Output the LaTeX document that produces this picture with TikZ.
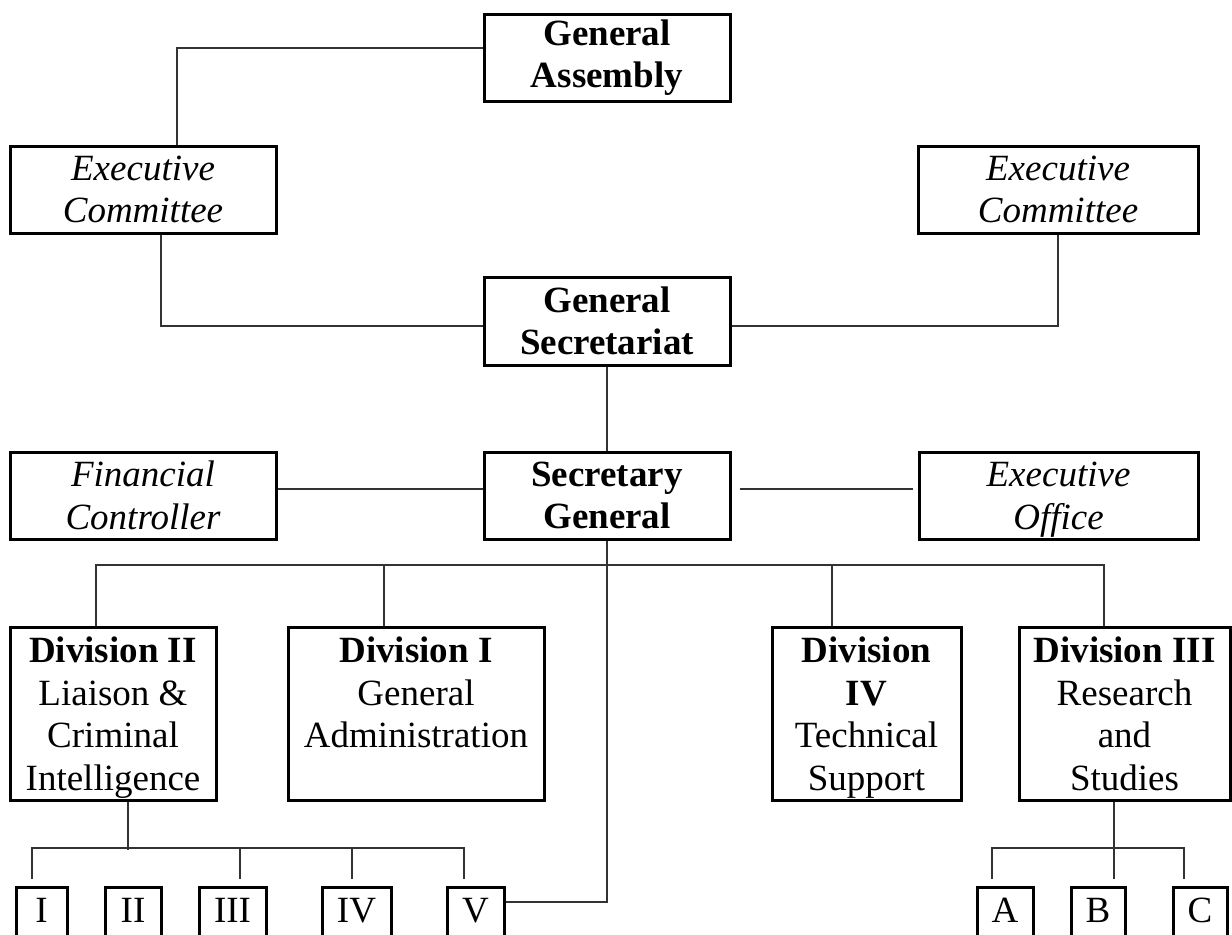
\documentclass[tikz,border=0pt]{standalone}
\usepackage{fontspec}
\setmainfont{Liberation Serif}
\begin{document}
\begin{tikzpicture}[x=0.5pt,y=-0.5pt,
box/.style={draw,line width=1.5pt,inner sep=0pt,align=center,minimum height=43.5pt,font=\fontsize{18.5pt}{21.25pt}\selectfont},
bfbox/.style={box,font=\fontsize{18.5pt}{21.25pt}\selectfont\bfseries},
itbox/.style={box,font=\fontsize{18.5pt}{21.25pt}\selectfont\itshape},
divbox/.style={box,minimum height=86.5pt},
unitbox/.style={box,minimum height=29pt,text height=12.5pt,text depth=6pt},
link/.style={line width=1pt,draw=black!80}]
\useasboundingbox (0,0) rectangle (1232,934);
\clip (0,0) rectangle (1232,934);

\node[bfbox,minimum width=123pt] (ga) at (607,57.5) {General\\Assembly};
\node[itbox,minimum width=133pt] (ecl) at (143,189.5) {Executive\\Committee};
\node[itbox,minimum width=140pt] (ecr) at (1058,189.5) {Executive\\Committee};
\node[bfbox,minimum width=123pt,minimum height=44pt] (gs) at (607,321) {General\\Secretariat};
\node[itbox,minimum width=133pt] (fc) at (143,495.5) {Financial\\Controller};
\node[bfbox,minimum width=123pt] (sg) at (607,495.5) {Secretary\\General};
\node[itbox,minimum width=139.5pt] (eo) at (1058.5,495.5) {Executive\\\smash{Office}};

\node[divbox,minimum width=103pt] (div2) at (113,713.5) {\textbf{Division II}\\Liaison \&\\Criminal\\\smash{Intelligence}};
\node[divbox,minimum width=128pt] (div1) at (416,713.5) {\textbf{Division I}\\General\\Administration\\\mbox{}};
\node[divbox,minimum width=94.5pt] (div4) at (866.5,713.5) {\textbf{Division}\\\textbf{IV}\\Technical\\\smash{Support}};
\node[divbox,minimum width=105.5pt] (div3) at (1124.5,713.5) {\textbf{Division III}\\Research\\and\\\smash{Studies}};

\node[unitbox,minimum width=25.5pt] (s1) at (41.5,916) {I};
\node[unitbox,minimum width=28pt] (s2) at (133,916) {II};
\node[unitbox,minimum width=33.5pt] (s3) at (232.5,916) {III};
\node[unitbox,minimum width=34.5pt] (s4) at (356.5,916) {IV};
\node[unitbox,minimum width=28.5pt] (s5) at (475.5,916) {V};
\node[unitbox,minimum width=28pt] (sa) at (1005,916) {A};
\node[unitbox,minimum width=27pt] (sb) at (1098,916) {B};
\node[unitbox,minimum width=27pt] (sc) at (1200,916) {C};

\coordinate (bus) at (607,565);
\coordinate (bl) at (32,848);
\coordinate (br) at (464,848);
\coordinate (cl) at (992,848);
\coordinate (cr) at (1184,848);

\draw[link] ([yshift=4.75pt]ga.west) -| ([xshift=17pt]ecl.north);
\draw[link] ([yshift=-2.5pt]gs.west) -| ([xshift=9pt]ecl.south);
\draw[link] ([yshift=-2.5pt]gs.east) -| (ecr.south);
\draw[link] (gs.south) -- (sg.north);
\draw[link] ([yshift=3.5pt]fc.east) -- ([yshift=3.5pt]sg.west);
\draw[link] ([xshift=4pt,yshift=3.5pt]sg.east) -- ([xshift=-2.5pt,yshift=3.5pt]eo.west);

\draw[link] ([xshift=-8.5pt]div2.north) |- (bus) -| ([xshift=-10.25pt]div3.north);
\draw[link] ([xshift=-16pt]div1.north) -- ([xshift=-16pt]div1.north |- bus);
\draw[link] ([xshift=-17.25pt]div4.north) -- ([xshift=-17.25pt]div4.north |- bus);
\draw[link] (sg.south) |- ([yshift=7pt]s5.east);

\draw[link] ([xshift=7.5pt]div2.south) -- ++(0,48);
\draw[link] (bl) -- (br);
\foreach \b/\dx in {s1/-4.75,s3/3.75,s4/-2.25,s5/-5.75}
  \draw[link] ([xshift=\dx pt,yshift=3.5pt]\b.north) -- ++(0,-32);

\draw[link] ([xshift=-5.25pt]div3.south) -- ++(0,48);
\draw[link] (cl) -- (cr);
\foreach \b/\dx in {sa/-6.5,sb/8,sc/-8}
  \draw[link] ([xshift=\dx pt,yshift=3.5pt]\b.north) -- ++(0,-32);
\end{tikzpicture}
\end{document}
